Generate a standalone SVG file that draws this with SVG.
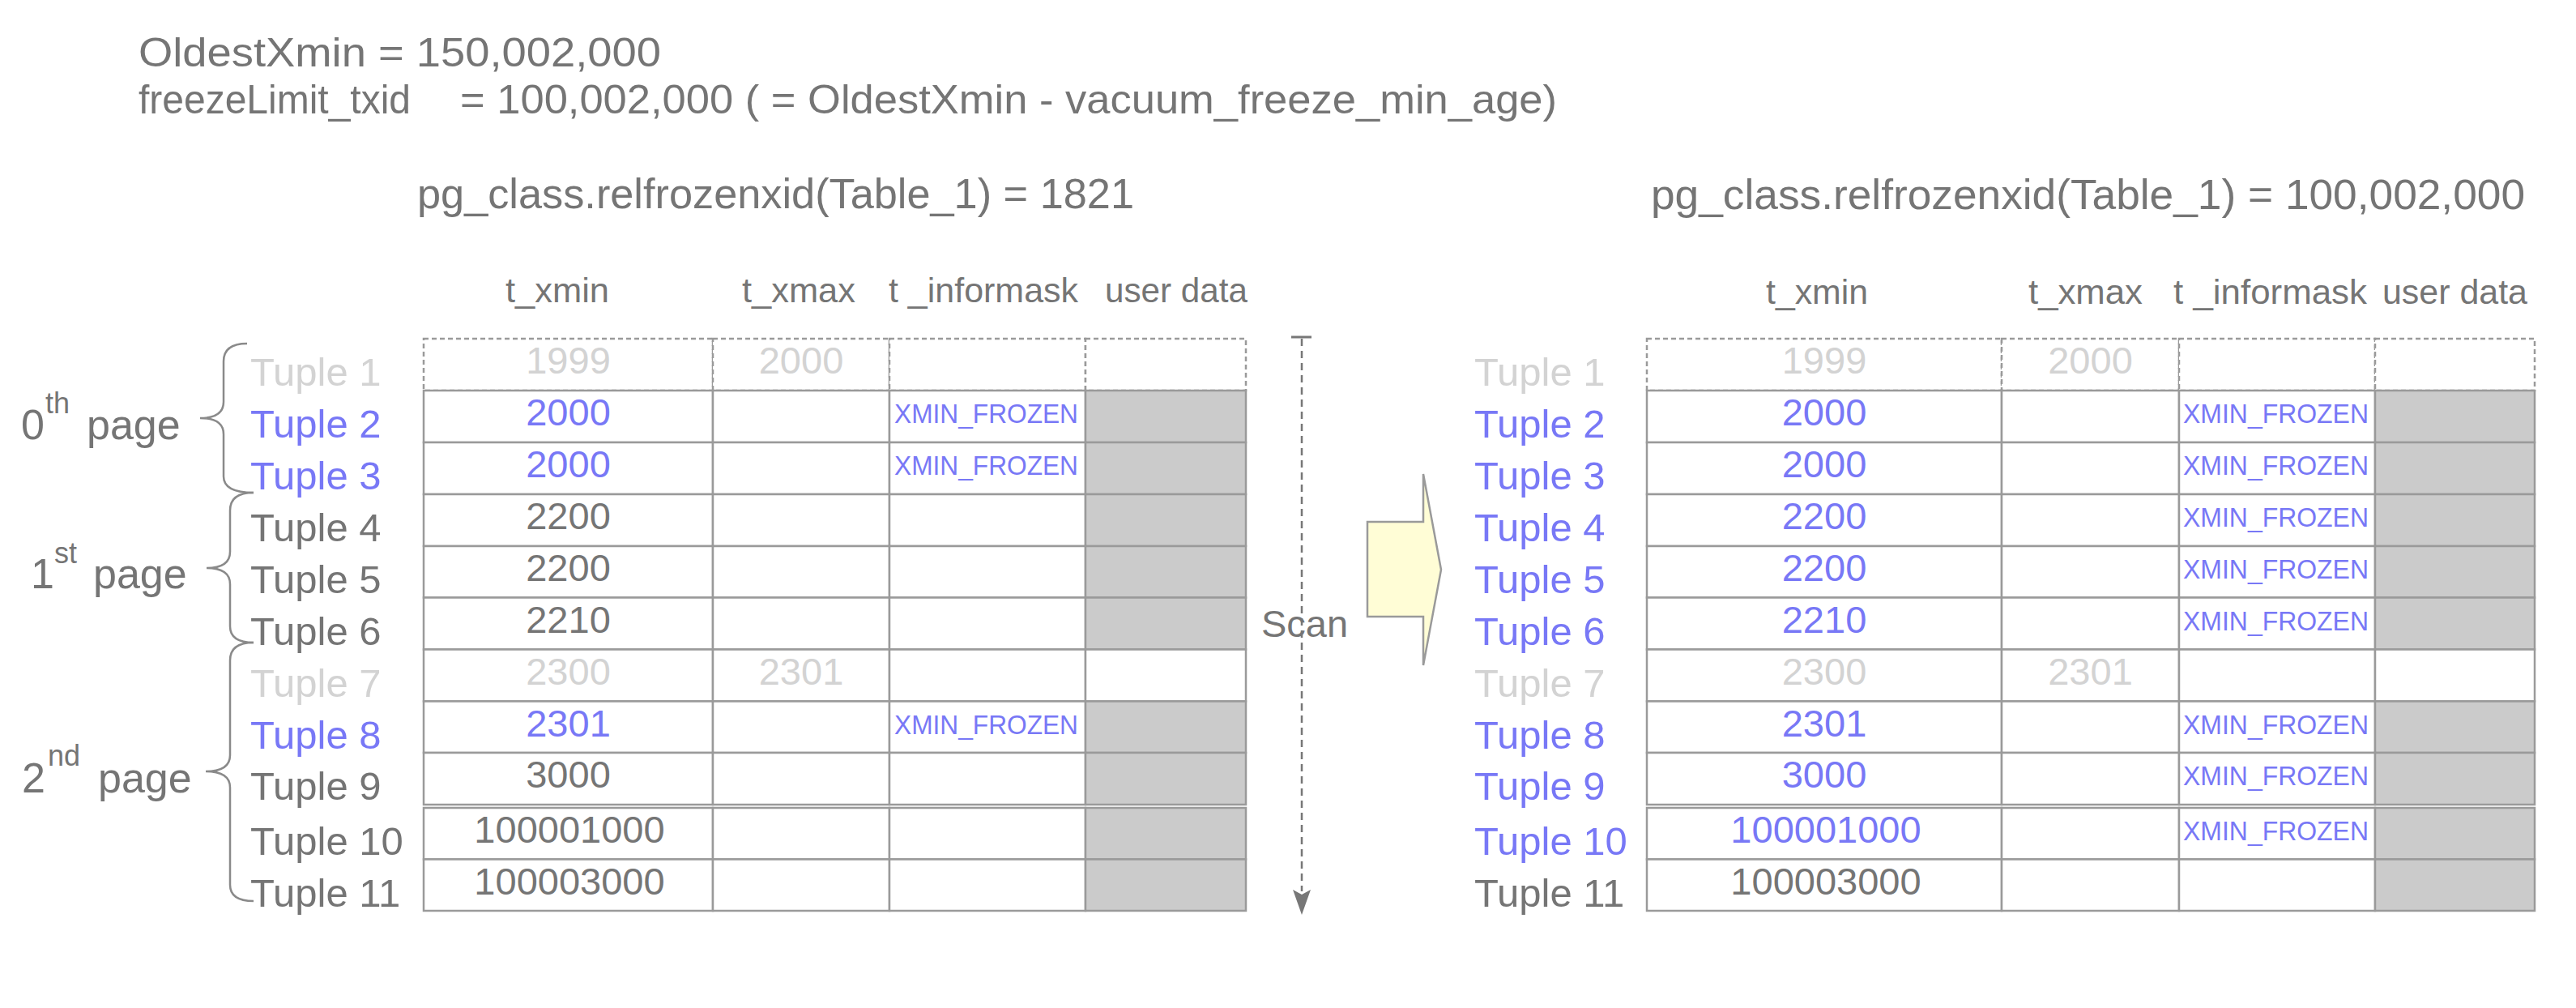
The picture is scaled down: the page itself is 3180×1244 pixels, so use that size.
<svg xmlns="http://www.w3.org/2000/svg" width="3180" height="1244" viewBox="0 0 3180 1244">
<style>
text{font-family:"Liberation Sans",Arial,sans-serif;fill:#757575}
.b{fill:#7878f6}
.l{fill:#d3d3d3}
.top{font-size:50px}
.hd{font-size:43px}
.tp{font-size:49px}
.cv{font-size:47px;text-anchor:middle}
.fz{font-size:33px;fill:#7878f6}
.pg{font-size:52px}
.sup{font-size:36px}
.c{fill:#fff;stroke:#9a9a9a;stroke-width:2.5}
.u{fill:#cbcbcb;stroke:#9a9a9a;stroke-width:2.5}
.d{stroke-dasharray:6 4}
.brace{fill:none;stroke:#8a8a8a;stroke-width:2.5}
</style>
<rect width="3180" height="1244" fill="#fff"/>

<g id="header">
<text class="top" x="171" y="82" textLength="645" lengthAdjust="spacingAndGlyphs">OldestXmin = 150,002,000</text>
<text class="top" x="171" y="140" textLength="336" lengthAdjust="spacingAndGlyphs">freezeLimit_txid</text>
<text class="top" x="568" y="140" textLength="1354" lengthAdjust="spacingAndGlyphs">= 100,002,000 ( = OldestXmin - vacuum_freeze_min_age)</text>
</g>

<g id="before-title">
<text class="top" x="515" y="257" textLength="885" lengthAdjust="spacingAndGlyphs" style="font-size:52px">pg_class.relfrozenxid(Table_1) = 1821</text>
</g>
<g id="after-title">
<text class="top" x="2038" y="258" textLength="1079" lengthAdjust="spacingAndGlyphs" style="font-size:52px">pg_class.relfrozenxid(Table_1) = 100,002,000</text>
</g>

<g id="before-columns">
<text class="hd" x="624" y="373" textLength="128" lengthAdjust="spacingAndGlyphs">t_xmin</text>
<text class="hd" x="916" y="373" textLength="140" lengthAdjust="spacingAndGlyphs">t_xmax</text>
<text class="hd" x="1097" y="373" textLength="234" lengthAdjust="spacingAndGlyphs">t _informask</text>
<text class="hd" x="1364" y="373" textLength="176" lengthAdjust="spacingAndGlyphs">user data</text>
</g>
<g id="after-columns">
<text class="hd" x="2180" y="375" textLength="126" lengthAdjust="spacingAndGlyphs">t_xmin</text>
<text class="hd" x="2504" y="375" textLength="141" lengthAdjust="spacingAndGlyphs">t_xmax</text>
<text class="hd" x="2683" y="375" textLength="239" lengthAdjust="spacingAndGlyphs">t _informask</text>
<text class="hd" x="2941" y="375" textLength="179" lengthAdjust="spacingAndGlyphs">user data</text>
</g>

<!-- BEFORE TABLE -->
<g id="before-table">
<g id="b-row1">
<rect class="c d" x="523" y="418" width="357" height="64"/><rect class="c d" x="880" y="418" width="218" height="64"/><rect class="c d" x="1098" y="418" width="242" height="64"/><rect class="c d" x="1340" y="418" width="198" height="64"/>
<text class="tp l" x="309" y="476">Tuple 1</text><text class="cv l" x="701.5" y="461">1999</text><text class="cv l" x="989" y="461">2000</text>
</g>
<g id="b-row2">
<rect class="c" x="523" y="482" width="357" height="64"/><rect class="c" x="880" y="482" width="218" height="64"/><rect class="c" x="1098" y="482" width="242" height="64"/><rect class="u" x="1340" y="482" width="198" height="64"/>
<text class="tp b" x="309" y="540">Tuple 2</text><text class="cv b" x="701.5" y="525">2000</text><text class="fz" x="1104" y="522" textLength="227" lengthAdjust="spacingAndGlyphs">XMIN_FROZEN</text>
</g>
<g id="b-row3">
<rect class="c" x="523" y="546" width="357" height="64"/><rect class="c" x="880" y="546" width="218" height="64"/><rect class="c" x="1098" y="546" width="242" height="64"/><rect class="u" x="1340" y="546" width="198" height="64"/>
<text class="tp b" x="309" y="604">Tuple 3</text><text class="cv b" x="701.5" y="589">2000</text><text class="fz" x="1104" y="586" textLength="227" lengthAdjust="spacingAndGlyphs">XMIN_FROZEN</text>
</g>
<g id="b-row4">
<rect class="c" x="523" y="610" width="357" height="64"/><rect class="c" x="880" y="610" width="218" height="64"/><rect class="c" x="1098" y="610" width="242" height="64"/><rect class="u" x="1340" y="610" width="198" height="64"/>
<text class="tp" x="309" y="668">Tuple 4</text><text class="cv" x="701.5" y="653">2200</text>
</g>
<g id="b-row5">
<rect class="c" x="523" y="674" width="357" height="63.5"/><rect class="c" x="880" y="674" width="218" height="63.5"/><rect class="c" x="1098" y="674" width="242" height="63.5"/><rect class="u" x="1340" y="674" width="198" height="63.5"/>
<text class="tp" x="309" y="732">Tuple 5</text><text class="cv" x="701.5" y="717">2200</text>
</g>
<g id="b-row6">
<rect class="c" x="523" y="737.5" width="357" height="64"/><rect class="c" x="880" y="737.5" width="218" height="64"/><rect class="c" x="1098" y="737.5" width="242" height="64"/><rect class="u" x="1340" y="737.5" width="198" height="64"/>
<text class="tp" x="309" y="795.5">Tuple 6</text><text class="cv" x="701.5" y="780.5">2210</text>
</g>
<g id="b-row7">
<rect class="c" x="523" y="801.5" width="357" height="64"/><rect class="c" x="880" y="801.5" width="218" height="64"/><rect class="c" x="1098" y="801.5" width="242" height="64"/><rect class="c" x="1340" y="801.5" width="198" height="64"/>
<text class="tp l" x="309" y="859.5">Tuple 7</text><text class="cv l" x="701.5" y="844.5">2300</text><text class="cv l" x="989" y="844.5">2301</text>
</g>
<g id="b-row8">
<rect class="c" x="523" y="865.5" width="357" height="63.5"/><rect class="c" x="880" y="865.5" width="218" height="63.5"/><rect class="c" x="1098" y="865.5" width="242" height="63.5"/><rect class="u" x="1340" y="865.5" width="198" height="63.5"/>
<text class="tp b" x="309" y="923.5">Tuple 8</text><text class="cv b" x="701.5" y="908.5">2301</text><text class="fz" x="1104" y="905.5" textLength="227" lengthAdjust="spacingAndGlyphs">XMIN_FROZEN</text>
</g>
<g id="b-row9">
<rect class="c" x="523" y="929" width="357" height="64"/><rect class="c" x="880" y="929" width="218" height="64"/><rect class="c" x="1098" y="929" width="242" height="64"/><rect class="u" x="1340" y="929" width="198" height="64"/>
<text class="tp" x="309" y="987">Tuple 9</text><text class="cv" x="701.5" y="972">3000</text>
</g>
<g id="b-row10">
<rect class="c" x="523" y="997" width="357" height="63.5"/><rect class="c" x="880" y="997" width="218" height="63.5"/><rect class="c" x="1098" y="997" width="242" height="63.5"/><rect class="u" x="1340" y="997" width="198" height="63.5"/>
<text class="tp" x="309" y="1055">Tuple 10</text><text class="cv" x="703" y="1040">100001000</text>
</g>
<g id="b-row11">
<rect class="c" x="523" y="1060.5" width="357" height="63.5"/><rect class="c" x="880" y="1060.5" width="218" height="63.5"/><rect class="c" x="1098" y="1060.5" width="242" height="63.5"/><rect class="u" x="1340" y="1060.5" width="198" height="63.5"/>
<text class="tp" x="309" y="1119">Tuple 11</text><text class="cv" x="703" y="1103.5">100003000</text>
</g>
</g>

<!-- page braces -->
<g id="page0">
<path class="brace" d="M305,424 Q276,424 276,446 L276,496 Q276,516 247,516 Q276,516 276,536 L276,588 Q276,608 313,608"/>
<text class="pg" x="26" y="542">0</text><text class="sup" x="56" y="510">th</text><text class="pg" x="107" y="542">page</text>
</g>
<g id="page1">
<path class="brace" d="M313,608 Q284,608 284,630 L284,681 Q284,701 255,701 Q284,701 284,721 L284,773 Q284,793 313,793"/>
<text class="pg" x="38" y="726">1</text><text class="sup" x="67" y="695">st</text><text class="pg" x="115" y="726">page</text>
</g>
<g id="page2">
<path class="brace" d="M313,793 Q284,793 284,815 L284,932 Q284,952 254,952 Q284,952 284,972 L284,1092 Q284,1112 313,1112"/>
<text class="pg" x="27" y="978">2</text><text class="sup" x="59" y="945">nd</text><text class="pg" x="121" y="978">page</text>
</g>

<!-- AFTER TABLE -->
<g id="after-table">
<g id="a-row1">
<rect class="c d" x="2033" y="418" width="438" height="64"/><rect class="c d" x="2471" y="418" width="219" height="64"/><rect class="c d" x="2690" y="418" width="242" height="64"/><rect class="c d" x="2932" y="418" width="197" height="64"/>
<text class="tp l" x="1820" y="476">Tuple 1</text><text class="cv l" x="2252" y="461">1999</text><text class="cv l" x="2580.5" y="461">2000</text>
</g>
<g id="a-row2">
<rect class="c" x="2033" y="482" width="438" height="64"/><rect class="c" x="2471" y="482" width="219" height="64"/><rect class="c" x="2690" y="482" width="242" height="64"/><rect class="u" x="2932" y="482" width="197" height="64"/>
<text class="tp b" x="1820" y="540">Tuple 2</text><text class="cv b" x="2252" y="525">2000</text><text class="fz" x="2695" y="522" textLength="229" lengthAdjust="spacingAndGlyphs">XMIN_FROZEN</text>
</g>
<g id="a-row3">
<rect class="c" x="2033" y="546" width="438" height="64"/><rect class="c" x="2471" y="546" width="219" height="64"/><rect class="c" x="2690" y="546" width="242" height="64"/><rect class="u" x="2932" y="546" width="197" height="64"/>
<text class="tp b" x="1820" y="604">Tuple 3</text><text class="cv b" x="2252" y="589">2000</text><text class="fz" x="2695" y="586" textLength="229" lengthAdjust="spacingAndGlyphs">XMIN_FROZEN</text>
</g>
<g id="a-row4">
<rect class="c" x="2033" y="610" width="438" height="64"/><rect class="c" x="2471" y="610" width="219" height="64"/><rect class="c" x="2690" y="610" width="242" height="64"/><rect class="u" x="2932" y="610" width="197" height="64"/>
<text class="tp b" x="1820" y="668">Tuple 4</text><text class="cv b" x="2252" y="653">2200</text><text class="fz" x="2695" y="650" textLength="229" lengthAdjust="spacingAndGlyphs">XMIN_FROZEN</text>
</g>
<g id="a-row5">
<rect class="c" x="2033" y="674" width="438" height="63.5"/><rect class="c" x="2471" y="674" width="219" height="63.5"/><rect class="c" x="2690" y="674" width="242" height="63.5"/><rect class="u" x="2932" y="674" width="197" height="63.5"/>
<text class="tp b" x="1820" y="732">Tuple 5</text><text class="cv b" x="2252" y="717">2200</text><text class="fz" x="2695" y="714" textLength="229" lengthAdjust="spacingAndGlyphs">XMIN_FROZEN</text>
</g>
<g id="a-row6">
<rect class="c" x="2033" y="737.5" width="438" height="64"/><rect class="c" x="2471" y="737.5" width="219" height="64"/><rect class="c" x="2690" y="737.5" width="242" height="64"/><rect class="u" x="2932" y="737.5" width="197" height="64"/>
<text class="tp b" x="1820" y="795.5">Tuple 6</text><text class="cv b" x="2252" y="780.5">2210</text><text class="fz" x="2695" y="777.5" textLength="229" lengthAdjust="spacingAndGlyphs">XMIN_FROZEN</text>
</g>
<g id="a-row7">
<rect class="c" x="2033" y="801.5" width="438" height="64"/><rect class="c" x="2471" y="801.5" width="219" height="64"/><rect class="c" x="2690" y="801.5" width="242" height="64"/><rect class="c" x="2932" y="801.5" width="197" height="64"/>
<text class="tp l" x="1820" y="859.5">Tuple 7</text><text class="cv l" x="2252" y="844.5">2300</text><text class="cv l" x="2580.5" y="844.5">2301</text>
</g>
<g id="a-row8">
<rect class="c" x="2033" y="865.5" width="438" height="63.5"/><rect class="c" x="2471" y="865.5" width="219" height="63.5"/><rect class="c" x="2690" y="865.5" width="242" height="63.5"/><rect class="u" x="2932" y="865.5" width="197" height="63.5"/>
<text class="tp b" x="1820" y="923.5">Tuple 8</text><text class="cv b" x="2252" y="908.5">2301</text><text class="fz" x="2695" y="905.5" textLength="229" lengthAdjust="spacingAndGlyphs">XMIN_FROZEN</text>
</g>
<g id="a-row9">
<rect class="c" x="2033" y="929" width="438" height="64"/><rect class="c" x="2471" y="929" width="219" height="64"/><rect class="c" x="2690" y="929" width="242" height="64"/><rect class="u" x="2932" y="929" width="197" height="64"/>
<text class="tp b" x="1820" y="987">Tuple 9</text><text class="cv b" x="2252" y="972">3000</text><text class="fz" x="2695" y="969" textLength="229" lengthAdjust="spacingAndGlyphs">XMIN_FROZEN</text>
</g>
<g id="a-row10">
<rect class="c" x="2033" y="997" width="438" height="63.5"/><rect class="c" x="2471" y="997" width="219" height="63.5"/><rect class="c" x="2690" y="997" width="242" height="63.5"/><rect class="u" x="2932" y="997" width="197" height="63.5"/>
<text class="tp b" x="1820" y="1055">Tuple 10</text><text class="cv b" x="2254" y="1040">100001000</text><text class="fz" x="2695" y="1037" textLength="229" lengthAdjust="spacingAndGlyphs">XMIN_FROZEN</text>
</g>
<g id="a-row11">
<rect class="c" x="2033" y="1060.5" width="438" height="63.5"/><rect class="c" x="2471" y="1060.5" width="219" height="63.5"/><rect class="c" x="2690" y="1060.5" width="242" height="63.5"/><rect class="u" x="2932" y="1060.5" width="197" height="63.5"/>
<text class="tp" x="1820" y="1119">Tuple 11</text><text class="cv" x="2254" y="1103.5">100003000</text>
</g>
</g>

<g id="vacuum-arrow">
<polygon points="1688,644 1757,644 1757,585 1779,703 1757,821 1757,761 1688,761" fill="#fffdd6" stroke="#9a9a9a" stroke-width="2.5" stroke-linejoin="miter"/>
</g>

<g id="connectors">
<line x1="1594" y1="416" x2="1619" y2="416" stroke="#777" stroke-width="3"/>
<line x1="1607" y1="418" x2="1607" y2="1100" stroke="#777" stroke-width="2.5" stroke-dasharray="9 6"/>
<polygon points="1596,1098 1607,1104 1618,1098 1607,1129" fill="#777"/>
<text id="scan-label" x="1557" y="786" style="font-size:47px" textLength="107" lengthAdjust="spacingAndGlyphs">Scan</text>
</g>
</svg>
